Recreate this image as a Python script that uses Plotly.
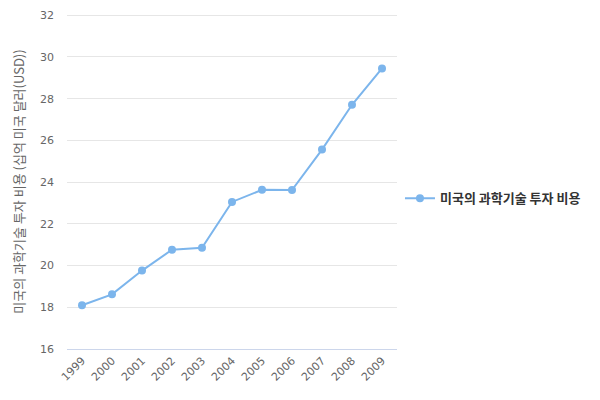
import plotly.graph_objects as go

# data
years = ["1999", "2000", "2001", "2002", "2003", "2004",
         "2005", "2006", "2007", "2008", "2009"]
spend = [18.1, 18.62, 19.76, 20.76, 20.85, 23.05,
         23.63, 23.62, 25.56, 27.71, 29.45]
series_name = "미국의 과학기술 투자 비용"
y_title = "미국의 과학기술 투자 비용 (십억 미국 달러(USD))"

fig = go.Figure()
fig.add_trace(go.Scatter(
    x=years, y=spend, mode="lines+markers", name=series_name,
    line=dict(color="#7cb5ec", width=2),
    marker=dict(color="#7cb5ec", size=8),
))

# page body has an 8px margin, so the figure is 16px smaller than the window
fig.update_layout(
    width=584, height=384,
    margin=dict(l=59, r=195, t=6, b=43),
    paper_bgcolor="white", plot_bgcolor="white",
    font=dict(family="DejaVu Sans, Noto Sans CJK KR, sans-serif", size=11, color="#666666"),
    showlegend=True,
    legend=dict(x=1.009, y=0.45, xanchor="left", yanchor="middle",
                font=dict(size=13, color="#333333", family="Noto Sans CJK KR, sans-serif", weight="bold")),
    xaxis=dict(
        type="category", range=[-0.5, len(years) - 0.5],
        tickangle=-45, showgrid=False, automargin=False,
        showline=True, linecolor="#ccd6eb", linewidth=1,
        ticks="", tickfont=dict(size=11, color="#666666"),
    ),
    yaxis=dict(
        # a hair above 32 so the top grid line is not clipped
        range=[16, 32.06], tickvals=[16, 18, 20, 22, 24, 26, 28, 30, 32],
        showgrid=True, gridcolor="#e6e6e6",
        zeroline=False, showline=False, ticks="", automargin=False,
        ticklabelstandoff=12, ticklabeloverflow="allow",
        tickfont=dict(size=11, color="#666666"),
        title=dict(text=y_title, font=dict(size=13, color="#666666",
                   family="Noto Sans CJK KR, sans-serif"), standoff=12),
    ),
)

fig.write_html("out.html")
